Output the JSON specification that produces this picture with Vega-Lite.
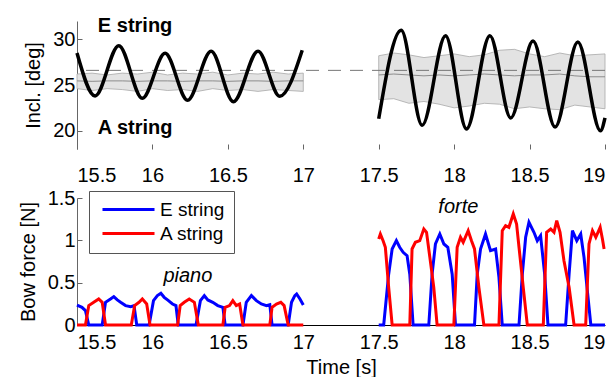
{
  "$schema": "https://vega.github.io/schema/vega-lite/v6.json",
  "padding": {"left": 18, "top": 15, "right": 0, "bottom": 0},
  "spacing": 3,
  "resolve": {"scale": {"color": "independent"}, "legend": {"color": "independent"}},
  "config": {
    "font": "Liberation Sans",
    "view": {"stroke": null},
    "axis": {"grid": false, "labelFontSize": 20, "titleFontSize": 20, "titleFontWeight": "normal", "labelColor": "black", "titleColor": "black", "domainColor": "#666", "tickColor": "#666", "labelFont": "Liberation Sans", "titleFont": "Liberation Sans"}
  },
  "datasets": {
    "incl": [
      {"t": 15.5, "v": 28.5, "seg": "p"}, {"t": 15.62, "v": 23.8, "seg": "p"}, {"t": 15.777, "v": 29.3, "seg": "p"},
      {"t": 15.933, "v": 23.55, "seg": "p"}, {"t": 16.084, "v": 28.46, "seg": "p"}, {"t": 16.233, "v": 23.33, "seg": "p"},
      {"t": 16.389, "v": 28.7, "seg": "p"}, {"t": 16.537, "v": 23.18, "seg": "p"}, {"t": 16.7, "v": 28.7, "seg": "p"},
      {"t": 16.844, "v": 23.77, "seg": "p"}, {"t": 16.993, "v": 28.8, "seg": "p"},
      {"t": 17.5, "v": 21.3, "seg": "f"}, {"t": 17.649, "v": 31.0, "seg": "f"}, {"t": 17.788, "v": 20.6, "seg": "f"},
      {"t": 17.943, "v": 30.4, "seg": "f"}, {"t": 18.082, "v": 20.2, "seg": "f"}, {"t": 18.237, "v": 30.4, "seg": "f"},
      {"t": 18.375, "v": 21.4, "seg": "f"}, {"t": 18.523, "v": 29.8, "seg": "f"}, {"t": 18.669, "v": 20.4, "seg": "f"},
      {"t": 18.82, "v": 29.7, "seg": "f"}, {"t": 18.97, "v": 20.0, "seg": "f"}, {"t": 19.0, "v": 21.4, "seg": "f"}
    ],
    "band": [
      {"t": 15.5, "lo": 24.6, "hi": 26.2, "mean": 25.45, "seg": "p"},
      {"t": 15.6, "lo": 24.4, "hi": 26.3, "mean": 25.4, "seg": "p"},
      {"t": 15.7, "lo": 24.6, "hi": 26.1, "mean": 25.45, "seg": "p"},
      {"t": 15.8, "lo": 24.5, "hi": 26.3, "mean": 25.45, "seg": "p"},
      {"t": 15.9, "lo": 24.3, "hi": 26.2, "mean": 25.4, "seg": "p"},
      {"t": 16.0, "lo": 24.6, "hi": 26.4, "mean": 25.45, "seg": "p"},
      {"t": 16.1, "lo": 24.4, "hi": 26.1, "mean": 25.45, "seg": "p"},
      {"t": 16.2, "lo": 24.5, "hi": 26.3, "mean": 25.4, "seg": "p"},
      {"t": 16.3, "lo": 24.3, "hi": 26.2, "mean": 25.45, "seg": "p"},
      {"t": 16.4, "lo": 24.6, "hi": 26.4, "mean": 25.45, "seg": "p"},
      {"t": 16.5, "lo": 24.4, "hi": 26.1, "mean": 25.4, "seg": "p"},
      {"t": 16.6, "lo": 24.5, "hi": 26.3, "mean": 25.45, "seg": "p"},
      {"t": 16.7, "lo": 24.3, "hi": 26.2, "mean": 25.45, "seg": "p"},
      {"t": 16.8, "lo": 24.5, "hi": 26.4, "mean": 25.4, "seg": "p"},
      {"t": 16.9, "lo": 24.4, "hi": 26.2, "mean": 25.45, "seg": "p"},
      {"t": 17.0, "lo": 24.3, "hi": 26.3, "mean": 25.45, "seg": "p"},
      {"t": 17.5, "lo": 23.4, "hi": 28.2, "mean": 26.1, "seg": "f"},
      {"t": 17.6, "lo": 23.5, "hi": 28.5, "mean": 26.2, "seg": "f"},
      {"t": 17.7, "lo": 23.0, "hi": 28.3, "mean": 26.1, "seg": "f"},
      {"t": 17.8, "lo": 23.2, "hi": 28.0, "mean": 26.0, "seg": "f"},
      {"t": 17.9, "lo": 22.9, "hi": 28.2, "mean": 26.1, "seg": "f"},
      {"t": 18.0, "lo": 22.5, "hi": 28.4, "mean": 26.0, "seg": "f"},
      {"t": 18.1, "lo": 22.7, "hi": 28.1, "mean": 26.1, "seg": "f"},
      {"t": 18.2, "lo": 23.0, "hi": 28.3, "mean": 26.2, "seg": "f"},
      {"t": 18.3, "lo": 22.9, "hi": 28.8, "mean": 26.1, "seg": "f"},
      {"t": 18.4, "lo": 22.4, "hi": 28.9, "mean": 26.0, "seg": "f"},
      {"t": 18.5, "lo": 22.6, "hi": 28.4, "mean": 26.1, "seg": "f"},
      {"t": 18.6, "lo": 22.4, "hi": 28.1, "mean": 26.1, "seg": "f"},
      {"t": 18.7, "lo": 22.3, "hi": 28.5, "mean": 26.2, "seg": "f"},
      {"t": 18.8, "lo": 22.8, "hi": 28.2, "mean": 26.0, "seg": "f"},
      {"t": 18.9, "lo": 22.6, "hi": 28.3, "mean": 25.9, "seg": "f"},
      {"t": 19.0, "lo": 22.4, "hi": 28.4, "mean": 25.9, "seg": "f"}
    ],
    "force": [
      {"t": 15.5, "f": 0.236, "s": "E string", "seg": "p"}, {"t": 15.533, "f": 0.209, "s": "E string", "seg": "p"},
      {"t": 15.556, "f": 0.17, "s": "E string", "seg": "p"}, {"t": 15.578, "f": 0, "s": "E string", "seg": "p"},
      {"t": 15.667, "f": 0, "s": "E string", "seg": "p"}, {"t": 15.689, "f": 0.268, "s": "E string", "seg": "p"},
      {"t": 15.722, "f": 0.307, "s": "E string", "seg": "p"}, {"t": 15.744, "f": 0.335, "s": "E string", "seg": "p"},
      {"t": 15.767, "f": 0.296, "s": "E string", "seg": "p"}, {"t": 15.789, "f": 0.268, "s": "E string", "seg": "p"},
      {"t": 15.822, "f": 0.229, "s": "E string", "seg": "p"}, {"t": 15.856, "f": 0.217, "s": "E string", "seg": "p"},
      {"t": 15.878, "f": 0.229, "s": "E string", "seg": "p"}, {"t": 15.896, "f": 0, "s": "E string", "seg": "p"},
      {"t": 15.978, "f": 0, "s": "E string", "seg": "p"}, {"t": 16.007, "f": 0.288, "s": "E string", "seg": "p"},
      {"t": 16.033, "f": 0.347, "s": "E string", "seg": "p"}, {"t": 16.056, "f": 0.374, "s": "E string", "seg": "p"},
      {"t": 16.078, "f": 0.327, "s": "E string", "seg": "p"}, {"t": 16.1, "f": 0.296, "s": "E string", "seg": "p"},
      {"t": 16.133, "f": 0.248, "s": "E string", "seg": "p"}, {"t": 16.156, "f": 0.229, "s": "E string", "seg": "p"},
      {"t": 16.171, "f": 0, "s": "E string", "seg": "p"}, {"t": 16.289, "f": 0, "s": "E string", "seg": "p"},
      {"t": 16.318, "f": 0.288, "s": "E string", "seg": "p"}, {"t": 16.344, "f": 0.347, "s": "E string", "seg": "p"},
      {"t": 16.367, "f": 0.296, "s": "E string", "seg": "p"}, {"t": 16.4, "f": 0.268, "s": "E string", "seg": "p"},
      {"t": 16.433, "f": 0.229, "s": "E string", "seg": "p"}, {"t": 16.467, "f": 0.209, "s": "E string", "seg": "p"},
      {"t": 16.482, "f": 0, "s": "E string", "seg": "p"}, {"t": 16.6, "f": 0, "s": "E string", "seg": "p"},
      {"t": 16.622, "f": 0.268, "s": "E string", "seg": "p"}, {"t": 16.656, "f": 0.347, "s": "E string", "seg": "p"},
      {"t": 16.689, "f": 0.288, "s": "E string", "seg": "p"}, {"t": 16.722, "f": 0.248, "s": "E string", "seg": "p"},
      {"t": 16.756, "f": 0.229, "s": "E string", "seg": "p"}, {"t": 16.778, "f": 0.24, "s": "E string", "seg": "p"},
      {"t": 16.793, "f": 0, "s": "E string", "seg": "p"}, {"t": 16.9, "f": 0, "s": "E string", "seg": "p"},
      {"t": 16.922, "f": 0.268, "s": "E string", "seg": "p"}, {"t": 16.944, "f": 0.347, "s": "E string", "seg": "p"},
      {"t": 16.956, "f": 0.366, "s": "E string", "seg": "p"}, {"t": 16.978, "f": 0.307, "s": "E string", "seg": "p"},
      {"t": 17.0, "f": 0.236, "s": "E string", "seg": "p"},
      {"t": 17.5, "f": 0, "s": "E string", "seg": "f"}, {"t": 17.533, "f": 0, "s": "E string", "seg": "f"},
      {"t": 17.566, "f": 0.6, "s": "E string", "seg": "f"}, {"t": 17.589, "f": 0.898, "s": "E string", "seg": "f"},
      {"t": 17.617, "f": 0.996, "s": "E string", "seg": "f"}, {"t": 17.639, "f": 0.918, "s": "E string", "seg": "f"},
      {"t": 17.662, "f": 0.858, "s": "E string", "seg": "f"}, {"t": 17.688, "f": 0.819, "s": "E string", "seg": "f"},
      {"t": 17.706, "f": 0.6, "s": "E string", "seg": "f"}, {"t": 17.728, "f": 0, "s": "E string", "seg": "f"},
      {"t": 17.832, "f": 0, "s": "E string", "seg": "f"}, {"t": 17.854, "f": 0.6, "s": "E string", "seg": "f"},
      {"t": 17.876, "f": 0.957, "s": "E string", "seg": "f"}, {"t": 17.905, "f": 1.075, "s": "E string", "seg": "f"},
      {"t": 17.932, "f": 0.957, "s": "E string", "seg": "f"}, {"t": 17.958, "f": 0.918, "s": "E string", "seg": "f"},
      {"t": 17.987, "f": 0.6, "s": "E string", "seg": "f"}, {"t": 18.009, "f": 0, "s": "E string", "seg": "f"},
      {"t": 18.135, "f": 0, "s": "E string", "seg": "f"}, {"t": 18.153, "f": 0.6, "s": "E string", "seg": "f"},
      {"t": 18.175, "f": 0.898, "s": "E string", "seg": "f"}, {"t": 18.208, "f": 1.075, "s": "E string", "seg": "f"},
      {"t": 18.241, "f": 0.878, "s": "E string", "seg": "f"}, {"t": 18.275, "f": 0.898, "s": "E string", "seg": "f"},
      {"t": 18.297, "f": 0.563, "s": "E string", "seg": "f"}, {"t": 18.319, "f": 0, "s": "E string", "seg": "f"},
      {"t": 18.43, "f": 0, "s": "E string", "seg": "f"}, {"t": 18.452, "f": 0.6, "s": "E string", "seg": "f"},
      {"t": 18.474, "f": 1.036, "s": "E string", "seg": "f"}, {"t": 18.496, "f": 1.213, "s": "E string", "seg": "f"},
      {"t": 18.529, "f": 1.095, "s": "E string", "seg": "f"}, {"t": 18.551, "f": 0.996, "s": "E string", "seg": "f"},
      {"t": 18.573, "f": 1.055, "s": "E string", "seg": "f"}, {"t": 18.6, "f": 0.6, "s": "E string", "seg": "f"},
      {"t": 18.622, "f": 0, "s": "E string", "seg": "f"}, {"t": 18.739, "f": 0, "s": "E string", "seg": "f"},
      {"t": 18.762, "f": 0.6, "s": "E string", "seg": "f"}, {"t": 18.784, "f": 1.114, "s": "E string", "seg": "f"},
      {"t": 18.813, "f": 0.996, "s": "E string", "seg": "f"}, {"t": 18.839, "f": 1.075, "s": "E string", "seg": "f"},
      {"t": 18.861, "f": 0.799, "s": "E string", "seg": "f"}, {"t": 18.883, "f": 0.406, "s": "E string", "seg": "f"},
      {"t": 18.906, "f": 0, "s": "E string", "seg": "f"}, {"t": 19.0, "f": 0, "s": "E string", "seg": "f"},
      {"t": 15.5, "f": 0, "s": "A string", "seg": "p"}, {"t": 15.556, "f": 0, "s": "A string", "seg": "p"},
      {"t": 15.578, "f": 0.229, "s": "A string", "seg": "p"}, {"t": 15.611, "f": 0.268, "s": "A string", "seg": "p"},
      {"t": 15.644, "f": 0.307, "s": "A string", "seg": "p"}, {"t": 15.667, "f": 0.268, "s": "A string", "seg": "p"},
      {"t": 15.689, "f": 0, "s": "A string", "seg": "p"}, {"t": 15.86, "f": 0, "s": "A string", "seg": "p"},
      {"t": 15.882, "f": 0.229, "s": "A string", "seg": "p"}, {"t": 15.911, "f": 0.268, "s": "A string", "seg": "p"},
      {"t": 15.933, "f": 0.307, "s": "A string", "seg": "p"}, {"t": 15.962, "f": 0.248, "s": "A string", "seg": "p"},
      {"t": 15.984, "f": 0, "s": "A string", "seg": "p"}, {"t": 16.167, "f": 0, "s": "A string", "seg": "p"},
      {"t": 16.184, "f": 0.229, "s": "A string", "seg": "p"}, {"t": 16.211, "f": 0.268, "s": "A string", "seg": "p"},
      {"t": 16.244, "f": 0.307, "s": "A string", "seg": "p"}, {"t": 16.278, "f": 0.268, "s": "A string", "seg": "p"},
      {"t": 16.304, "f": 0, "s": "A string", "seg": "p"}, {"t": 16.467, "f": 0, "s": "A string", "seg": "p"},
      {"t": 16.482, "f": 0.209, "s": "A string", "seg": "p"}, {"t": 16.511, "f": 0.229, "s": "A string", "seg": "p"},
      {"t": 16.533, "f": 0.288, "s": "A string", "seg": "p"}, {"t": 16.556, "f": 0.229, "s": "A string", "seg": "p"},
      {"t": 16.578, "f": 0.248, "s": "A string", "seg": "p"}, {"t": 16.6, "f": 0, "s": "A string", "seg": "p"},
      {"t": 16.778, "f": 0, "s": "A string", "seg": "p"}, {"t": 16.793, "f": 0.209, "s": "A string", "seg": "p"},
      {"t": 16.822, "f": 0.248, "s": "A string", "seg": "p"}, {"t": 16.851, "f": 0.268, "s": "A string", "seg": "p"},
      {"t": 16.873, "f": 0.229, "s": "A string", "seg": "p"}, {"t": 16.9, "f": 0, "s": "A string", "seg": "p"},
      {"t": 17.0, "f": 0, "s": "A string", "seg": "p"},
      {"t": 17.5, "f": 1.016, "s": "A string", "seg": "f"}, {"t": 17.511, "f": 1.075, "s": "A string", "seg": "f"},
      {"t": 17.529, "f": 0.996, "s": "A string", "seg": "f"}, {"t": 17.544, "f": 0.918, "s": "A string", "seg": "f"},
      {"t": 17.566, "f": 0.445, "s": "A string", "seg": "f"}, {"t": 17.589, "f": 0, "s": "A string", "seg": "f"},
      {"t": 17.706, "f": 0, "s": "A string", "seg": "f"}, {"t": 17.721, "f": 0.898, "s": "A string", "seg": "f"},
      {"t": 17.743, "f": 0.977, "s": "A string", "seg": "f"}, {"t": 17.772, "f": 0.996, "s": "A string", "seg": "f"},
      {"t": 17.799, "f": 1.134, "s": "A string", "seg": "f"}, {"t": 17.817, "f": 1.095, "s": "A string", "seg": "f"},
      {"t": 17.839, "f": 0.799, "s": "A string", "seg": "f"}, {"t": 17.865, "f": 0.445, "s": "A string", "seg": "f"},
      {"t": 17.887, "f": 0, "s": "A string", "seg": "f"}, {"t": 17.998, "f": 0, "s": "A string", "seg": "f"},
      {"t": 18.02, "f": 0.918, "s": "A string", "seg": "f"}, {"t": 18.042, "f": 1.036, "s": "A string", "seg": "f"},
      {"t": 18.06, "f": 0.977, "s": "A string", "seg": "f"}, {"t": 18.093, "f": 1.114, "s": "A string", "seg": "f"},
      {"t": 18.115, "f": 0.996, "s": "A string", "seg": "f"}, {"t": 18.135, "f": 0.898, "s": "A string", "seg": "f"},
      {"t": 18.164, "f": 0.445, "s": "A string", "seg": "f"}, {"t": 18.197, "f": 0, "s": "A string", "seg": "f"},
      {"t": 18.297, "f": 0, "s": "A string", "seg": "f"}, {"t": 18.319, "f": 1.114, "s": "A string", "seg": "f"},
      {"t": 18.341, "f": 1.174, "s": "A string", "seg": "f"}, {"t": 18.363, "f": 1.154, "s": "A string", "seg": "f"},
      {"t": 18.392, "f": 1.312, "s": "A string", "seg": "f"}, {"t": 18.414, "f": 1.193, "s": "A string", "seg": "f"},
      {"t": 18.43, "f": 0.918, "s": "A string", "seg": "f"}, {"t": 18.458, "f": 0.445, "s": "A string", "seg": "f"},
      {"t": 18.485, "f": 0, "s": "A string", "seg": "f"}, {"t": 18.591, "f": 0, "s": "A string", "seg": "f"},
      {"t": 18.613, "f": 1.095, "s": "A string", "seg": "f"}, {"t": 18.64, "f": 1.134, "s": "A string", "seg": "f"},
      {"t": 18.662, "f": 1.095, "s": "A string", "seg": "f"}, {"t": 18.68, "f": 1.233, "s": "A string", "seg": "f"},
      {"t": 18.702, "f": 1.095, "s": "A string", "seg": "f"}, {"t": 18.728, "f": 0.759, "s": "A string", "seg": "f"},
      {"t": 18.762, "f": 0.445, "s": "A string", "seg": "f"}, {"t": 18.795, "f": 0, "s": "A string", "seg": "f"},
      {"t": 18.872, "f": 0, "s": "A string", "seg": "f"}, {"t": 18.894, "f": 0.957, "s": "A string", "seg": "f"},
      {"t": 18.917, "f": 1.114, "s": "A string", "seg": "f"}, {"t": 18.939, "f": 1.036, "s": "A string", "seg": "f"},
      {"t": 18.968, "f": 1.154, "s": "A string", "seg": "f"}, {"t": 18.983, "f": 1.016, "s": "A string", "seg": "f"},
      {"t": 18.994, "f": 0.898, "s": "A string", "seg": "f"}
    ]
  },
  "vconcat": [
    {
      "width": 528,
      "height": 128,
      "layer": [
        {
          "data": {"name": "band"},
          "mark": {"type": "area", "fill": "#e3e3e3", "stroke": "#a8a8a8", "strokeWidth": 0.8},
          "encoding": {
            "x": {"field": "t", "type": "quantitative", "scale": {"domain": [15.5, 19], "nice": false, "zero": false},
              "axis": {"title": null, "values": [15.5, 16, 16.5, 17, 17.5, 18, 18.5, 19], "format": "~g", "domain": false, "tickSize": -5, "labelPadding": 21}},
            "y": {"field": "lo", "type": "quantitative", "scale": {"domain": [18, 32], "nice": false, "zero": false},
              "axis": {"title": "Incl. [deg]", "values": [20, 25, 30], "tickSize": -5, "labelPadding": 7, "titlePadding": 9}},
            "y2": {"field": "hi"},
            "detail": {"field": "seg"}
          }
        },
        {
          "data": {"name": "band"},
          "mark": {"type": "line", "color": "#8c8c8c", "strokeWidth": 1},
          "encoding": {
            "x": {"field": "t", "type": "quantitative"},
            "y": {"field": "mean", "type": "quantitative"},
            "detail": {"field": "seg"}
          }
        },
        {
          "data": {"values": [{}]},
          "mark": {"type": "rule", "color": "#777777", "strokeWidth": 1, "strokeDash": [13, 9]},
          "encoding": {"y": {"datum": 26.6, "type": "quantitative"}}
        },
        {
          "data": {"name": "incl"},
          "mark": {"type": "line", "color": "black", "strokeWidth": 3.5, "interpolate": "monotone"},
          "encoding": {
            "x": {"field": "t", "type": "quantitative"},
            "y": {"field": "v", "type": "quantitative"},
            "detail": {"field": "seg"}
          }
        },
        {
          "data": {"values": [{}]},
          "mark": {"type": "text", "text": "E string", "fontSize": 20, "fontWeight": "bold", "align": "center", "baseline": "alphabetic"},
          "encoding": {"x": {"datum": 15.885, "type": "quantitative"}, "y": {"datum": 30.81, "type": "quantitative"}}
        },
        {
          "data": {"values": [{}]},
          "mark": {"type": "text", "text": "A string", "fontSize": 20, "fontWeight": "bold", "align": "center", "baseline": "alphabetic"},
          "encoding": {"x": {"datum": 15.885, "type": "quantitative"}, "y": {"datum": 19.69, "type": "quantitative"}}
        }
      ]
    },
    {
      "width": 528,
      "height": 127,
      "layer": [
        {
          "data": {"name": "force"},
          "mark": {"type": "line", "strokeWidth": 3},
          "encoding": {
            "x": {"field": "t", "type": "quantitative", "scale": {"domain": [15.5, 19], "nice": false, "zero": false},
              "axis": {"title": "Time [s]", "values": [15.5, 16, 16.5, 17, 17.5, 18, 18.5, 19], "format": "~g", "domain": true, "domainColor": "black", "domainWidth": 1.2, "ticks": false, "labelPadding": 7, "titlePadding": 5}},
            "y": {"field": "f", "type": "quantitative", "scale": {"domain": [0, 1.5], "nice": false},
              "axis": {"title": "Bow force [N]", "values": [0, 0.5, 1, 1.5], "format": "~g", "tickSize": -5, "labelPadding": 7, "titlePadding": 9}},
            "color": {"field": "s", "type": "nominal", "scale": {"domain": ["E string", "A string"], "range": ["#0000ff", "#ff0000"]},
              "legend": {"title": null, "orient": "none", "legendX": 12, "legendY": -7, "symbolType": "M-1.67,0H15.67", "symbolSize": 36, "symbolStrokeWidth": 3, "labelFontSize": 19, "labelOffset": 43, "rowPadding": 4, "padding": 9, "strokeColor": "#555555", "fillColor": "white", "labelColor": "black"}},
            "detail": {"field": "seg"}
          }
        },
        {
          "data": {"values": [{}]},
          "mark": {"type": "text", "text": "piano", "fontSize": 20, "fontStyle": "italic", "align": "center", "baseline": "alphabetic"},
          "encoding": {"x": {"datum": 16.235, "type": "quantitative"}, "y": {"datum": 0.512, "type": "quantitative"}}
        },
        {
          "data": {"values": [{}]},
          "mark": {"type": "text", "text": "forte", "fontSize": 20, "fontStyle": "italic", "align": "center", "baseline": "alphabetic"},
          "encoding": {"x": {"datum": 18.028, "type": "quantitative"}, "y": {"datum": 1.32, "type": "quantitative"}}
        }
      ]
    }
  ]
}
